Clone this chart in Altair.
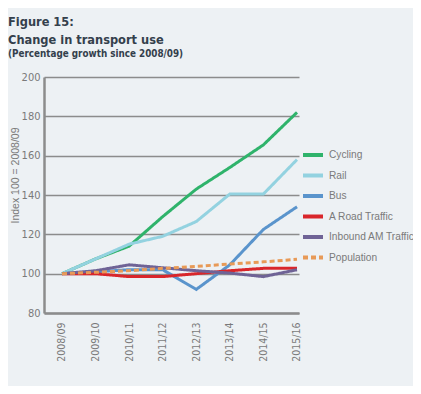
import altair as alt
import pandas as pd

years = ["2008/09", "2009/10", "2010/11", "2011/12", "2012/13", "2013/14", "2014/15", "2015/16"]
series_names = ["Cycling", "Rail", "Bus", "A Road Traffic", "Inbound AM Traffic", "Population"]
cycling = [100, 107.5, 114, 129, 143, 154, 165.5, 182]
rail = [100, 107.5, 115, 119, 126.5, 140.5, 140.5, 158]
bus = [100, 101, 102, 102, 92, 104.5, 122.5, 134]
a_road = [100, 100, 98.5, 98.5, 100, 101.5, 102.7, 102.7]
inbound = [100, 101.5, 104.5, 103, 101.5, 100.3, 98.5, 102]
population = [100, 100.7, 101.5, 102.7, 103.7, 104.9, 106, 107.3]
colors = ["#2fb36b", "#93d2e0", "#5a94cc", "#d9262b", "#6f6396", "#e89a57"]
dashes = [[1, 0], [1, 0], [1, 0], [1, 0], [1, 0], [5, 3]]
y_ticks = [80, 100, 120, 140, 160, 180, 200]

rows = []
for name, vals in zip(series_names, [cycling, rail, bus, a_road, inbound, population]):
    for i, (yr, v) in enumerate(zip(years, vals)):
        rows.append({"series": name, "idx": i, "year": yr, "value": v})
df = pd.DataFrame(rows)

label_expr = "[" + ",".join(f"'{y}'" for y in years) + "][datum.value]"

NARROW = "Liberation Sans Narrow, DejaVu Sans Condensed, Arial Narrow, Liberation Sans, sans-serif"
REG = "Liberation Sans, Arial, sans-serif"
GRAY = "#7a7a7a"
AXIS_GRAY = "#8c8c8c"

legend_kw = dict(
    title=None, orient="none", legendX=257, legendY=66,
    symbolType="stroke", symbolSize=400, symbolStrokeWidth=4,
    labelFontSize=10.2, labelColor=GRAY, labelFont=REG,
    labelOffset=4, rowPadding=0.5,
)

chart = alt.Chart(df).mark_line(strokeWidth=3).encode(
    x=alt.X("idx:Q",
            scale=alt.Scale(domain=[-0.536, 7.06], nice=False, zero=False),
            axis=alt.Axis(values=list(range(8)), labelExpr=label_expr, labelAngle=-90,
                          grid=False, ticks=False, title=None, labelPadding=9,
                          labelFont=NARROW, labelFontSize=10.5, labelColor=GRAY,
                          domainColor=AXIS_GRAY, domainWidth=2.5)),
    y=alt.Y("value:Q",
            scale=alt.Scale(domain=[80, 200], nice=False, zero=False),
            axis=alt.Axis(values=y_ticks, grid=True, gridColor=AXIS_GRAY, gridWidth=1.5,
                          ticks=False, labelPadding=4, labelFont=NARROW, labelFontSize=11,
                          labelColor=GRAY, domainColor=AXIS_GRAY, domainWidth=2.5,
                          title="Index 100 = 2008/09", titleFont=REG,
                          titleFontSize=10.5, titleFontWeight="normal", titleColor=GRAY,
                          titleX=-29, titleY=98, titleAlign="center", titleBaseline="middle")),
    color=alt.Color("series:N", scale=alt.Scale(domain=series_names, range=colors),
                    legend=alt.Legend(**legend_kw)),
    strokeDash=alt.StrokeDash("series:N", scale=alt.Scale(domain=series_names, range=dashes),
                              legend=alt.Legend(**legend_kw)),
).properties(
    width=255, height=236,
    autosize=alt.AutoSizeParams(type="none"),
    padding={"left": 36, "top": 69, "right": 114, "bottom": 73},
    title=alt.TitleParams(
        text=["Figure 15:", "Change in transport use"],
        subtitle="(Percentage growth since 2008/09)",
        anchor="start", frame="group", dx=-36, offset=12,
        font=NARROW, fontSize=12.7, fontWeight="bold", color="#34404c", lineHeight=17.5,
        subtitleFont=NARROW, subtitleFontSize=9.8, subtitleFontWeight="bold",
        subtitleColor="#34404c", subtitlePadding=3,
    ),
).configure(background="#edf1f4").configure_view(stroke=None)

chart.save("out.html", embed_options={"renderer": "svg", "actions": False})
